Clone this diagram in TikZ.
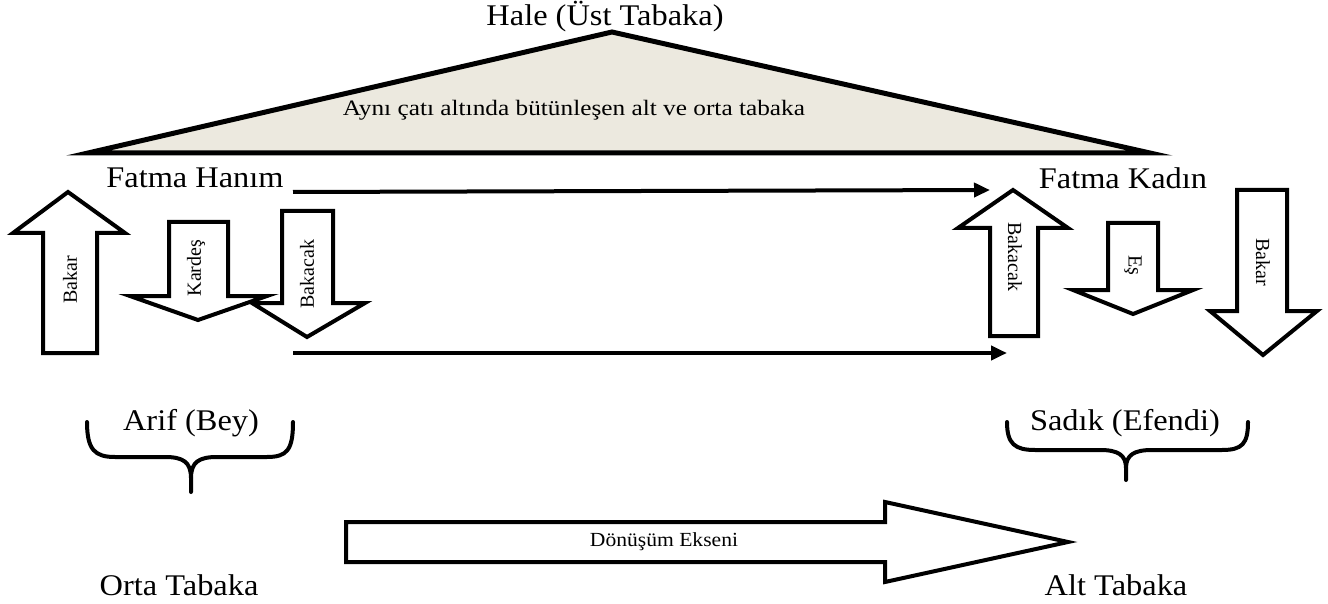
\documentclass[tikz,border=0pt]{standalone}
\usepackage{fontspec}
\setmainfont{Liberation Serif}
\newfontfamily\widefont[FakeStretch=1.08]{Liberation Serif}
\newfontfamily\capfont[FakeStretch=1.15]{Liberation Serif}
\usetikzlibrary{arrows.meta}
\definecolor{roof}{RGB}{236,233,223}
\tikzset{
  big/.style={font=\widefont\fontsize{30}{34}\selectfont, inner sep=0pt},
  small/.style={font=\widefont\fontsize{20}{24}\selectfont, inner sep=0pt},
  vsmall/.style={font=\fontsize{20}{24}\selectfont, inner sep=0pt},
  caption/.style={font=\capfont\fontsize{22}{26}\selectfont, inner sep=0pt},
  blockarrow/.style={draw=black, line width=4pt, fill=white, line join=miter},
  flow/.style={line width=4pt, -{Triangle[length=16pt,width=14pt]}},
  brace/.style={line width=4pt, line cap=round, line join=round},
}
\begin{document}
\begin{tikzpicture}[x=1pt,y=-1pt]
\useasboundingbox (0,0) rectangle (1328,604);
% roof
\filldraw[fill=roof, draw=black, line width=5pt, line join=miter] (88,153) -- (612,32) -- (1150,153) -- cycle;
\node[big] (hale) at (605,17) {Hale (Üst Tabaka)};
\node[caption] (roofcap) at (574,110) {Aynı çatı altında bütünleşen alt ve orta tabaka};
\node[big] (hanim) at (195,178) {Fatma Hanım};
\node[big] (kadin) at (1123,178) {Fatma Kadın};
% flow arrows
\coordinate (a1s) at (293,192);
\coordinate (a1e) at (990,190);
\coordinate (a2s) at (293,353);
\coordinate (a2e) at (1007,353);
\draw[flow] (a1s) -- (a1e);
\draw[flow] (a2s) -- (a2e);
% left block arrows
\draw[blockarrow] (43,353) -- (43,233) -- (13,233) -- (68,192) -- (125,233) -- (97,233) -- (97,353) -- cycle;
\node[vsmall, rotate=90] (l1) at (70,280) {Bakar};
\draw[blockarrow] (169,222) -- (228,222) -- (228,296) -- (267,296) -- (198,320) -- (130,296) -- (169,296) -- cycle;
\node[vsmall, rotate=90] (l2) at (196,268) {Kardeş};
\draw[blockarrow] (282,211) -- (333,211) -- (333,303) -- (365,303) -- (307,337) -- (252,303) -- (282,303) -- cycle;
\node[vsmall, rotate=90] (l3) at (307,274) {Bakacak};
% right block arrows
\draw[blockarrow] (990,336) -- (990,228) -- (958,228) -- (1013,190) -- (1068,228) -- (1038,228) -- (1038,336) -- cycle;
\node[vsmall, rotate=-90] (r1) at (1015,257) {Bakacak};
\draw[blockarrow] (1108,223) -- (1158,223) -- (1158,290) -- (1193,290) -- (1133,314) -- (1073,290) -- (1108,290) -- cycle;
\node[vsmall, rotate=-90] (r2) at (1133,265) {Eş};
\draw[blockarrow] (1237,190) -- (1287,190) -- (1287,311) -- (1317,311) -- (1263,355) -- (1210,311) -- (1237,311) -- cycle;
\node[vsmall, rotate=-90] (r3) at (1263,262) {Bakar};
% braces
\node[big] (arif) at (191,423) {Arif (Bey)};
\node[big] (sadik) at (1125,423) {Sadık (Efendi)};
\draw[brace] (87,422) .. controls (87,450) and (95,457) .. (115,457) -- (165,457) .. controls (183,457) and (191,462) .. (191,478) -- (191,492);
\draw[brace] (191,478) .. controls (191,462) and (199,457) .. (217,457) -- (267,457) .. controls (287,457) and (293,450) .. (293,422);
\draw[brace] (1007,422) .. controls (1007,444) and (1015,450) .. (1035,450) -- (1100,450) .. controls (1118,450) and (1126,455) .. (1126,468) -- (1126,480);
\draw[brace] (1126,468) .. controls (1126,455) and (1134,450) .. (1152,450) -- (1222,450) .. controls (1242,450) and (1248,444) .. (1248,422);
% transformation axis
\draw[blockarrow] (346,522) -- (885,522) -- (885,502) -- (1068,542) -- (885,582) -- (885,562) -- (346,562) -- cycle;
\node[small] (axis) at (664,542) {Dönüşüm Ekseni};
\node[big] (orta) at (179,585) {Orta Tabaka};
\node[big] (alt) at (1116,585) {Alt Tabaka};
\end{tikzpicture}
\end{document}
